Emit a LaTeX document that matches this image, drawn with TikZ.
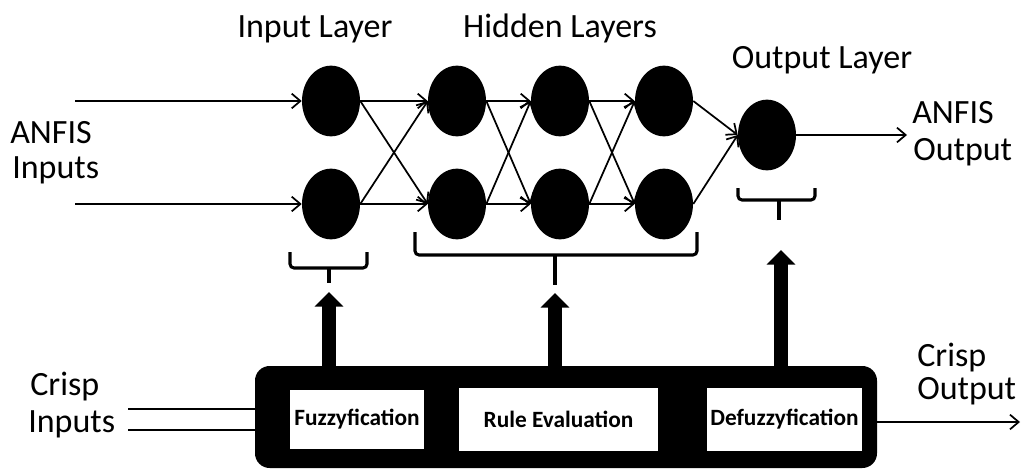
\documentclass[tikz,border=0pt]{standalone}
\usepackage{fontspec}
\setmainfont{Carlito}
\usetikzlibrary{arrows.meta,shapes.geometric}
\begin{document}
\begin{tikzpicture}[x=0.75pt,y=-0.75pt,
  neuron/.style={ellipse,fill=black,minimum width=43.5pt,minimum height=53pt,inner sep=0pt},
  wire/.style={line width=1.3pt,-{Straight Barb[length=6.5pt,width=11pt,line width=1.3pt]}},
  plainwire/.style={line width=1.3pt},
  label/.style={inner sep=0pt,font=\fontsize{25.5}{30}\selectfont},
  blockbox/.style={rectangle,fill=black,rounded corners=11pt,minimum width=466.5pt,minimum height=76.5pt},
  stagebox/.style={rectangle,fill=white,inner sep=0pt,font=\bfseries\fontsize{17.5}{20}\selectfont},
  bigarrow/.style={line width=11pt,-{Triangle[length=11pt,width=21pt]}},
  brace/.style={line width=2.3pt,rounded corners=3pt}
]
\useasboundingbox (0,0) rectangle (1024,471);

% layer titles
\node[label,anchor=base] (tin)  at (315,37) {Input Layer};
\node[label,anchor=base] (thid) at (560,37) {Hidden Layers};
\node[label,anchor=base] (tout) at (822,68) {Output Layer};

% side labels
\node[label,anchor=base west] (ai1) at (10,143) {ANFIS};
\node[label,anchor=base west] (ai2) at (12,178) {Inputs};
\node[label,anchor=base west] (ao1) at (912,123) {ANFIS};
\node[label,anchor=base west] (ao2) at (913,160) {Output};
\node[label,anchor=base west] (co1) at (917,366) {Crisp};
\node[label,anchor=base west] (co2) at (917,399) {Output};
\node[label,anchor=base west] (ci1) at (30,395) {Crisp};
\node[label,anchor=base west] (ci2) at (28,432) {Inputs};

% neurons
\node[neuron] (ina) at (331,101) {};
\node[neuron] (inb) at (331,204) {};
\node[neuron] (h1a) at (457,101) {};
\node[neuron] (h1b) at (457,204) {};
\node[neuron] (h2a) at (560,101) {};
\node[neuron] (h2b) at (560,204) {};
\node[neuron] (h3a) at (664,101) {};
\node[neuron] (h3b) at (664,204) {};
\node[neuron] (out) at (767,135) {};

% network inputs and output
\coordinate (src1) at (75,101);
\coordinate (src2) at (75,204);
\coordinate (dst)  at (907,135);
\draw[wire] (src1) -- (ina.west);
\draw[wire] (src2) -- (inb.west);
\draw[wire] (out.east) -- (dst);

% full connections between layers
\foreach \p/\q in {in/h1,h1/h2,h2/h3}{
  \draw[wire] (\p a.east) -- (\q a.west);
  \draw[wire] (\p a.east) -- (\q b.west);
  \draw[wire] (\p b.east) -- (\q a.west);
  \draw[wire] (\p b.east) -- (\q b.west);
}
\draw[wire] (h3a.east) -- (out.west);
\draw[wire] (h3b.east) -- (out.west);

% fuzzy inference block
\node[blockbox] (fis) at (566,417) {};
\node[stagebox,minimum width=100.5pt,minimum height=44pt] (fuzz) at (357,419.5) {Fuzzyfication};
\node[stagebox,minimum width=149pt,minimum height=47pt] (rule) at (558.5,419.5) {Rule Evaluation};
\node[stagebox,minimum width=116pt,minimum height=47pt] (defz) at (784.5,419.5) {Defuzzyfication};

% crisp signals
\coordinate (cin1) at (128,409);
\coordinate (cin2) at (128,430);
\coordinate (cout) at (1020,422);
\draw[plainwire] (cin1) -- (cin1 -| fis.west);
\draw[plainwire] (cin2) -- (cin2 -| fis.west);
\draw[wire] (cout -| fis.east) -- (cout);

% braces grouping the layers
\draw[brace] (290,252) -- (290,268) -- (367,268) -- (367,252);
\draw[brace] (329,267) -- (329,283);
\draw[brace] (415,232) -- (415,255) -- (697,255) -- (697,232);
\draw[brace] (555,254) -- (555,285);
\draw[brace] (738,188) -- (738,200) -- (815,200) -- (815,188);
\draw[brace] (779,199) -- (779,220);

% thick arrows from the block to the layer groups
\coordinate (tipA) at (329,292);
\coordinate (tipB) at (555,293);
\coordinate (tipC) at (781,250);
\draw[bigarrow] (tipA |- fis.north) -- (tipA);
\draw[bigarrow] (tipB |- fis.north) -- (tipB);
\draw[bigarrow] (tipC |- fis.north) -- (tipC);
\end{tikzpicture}
\end{document}
